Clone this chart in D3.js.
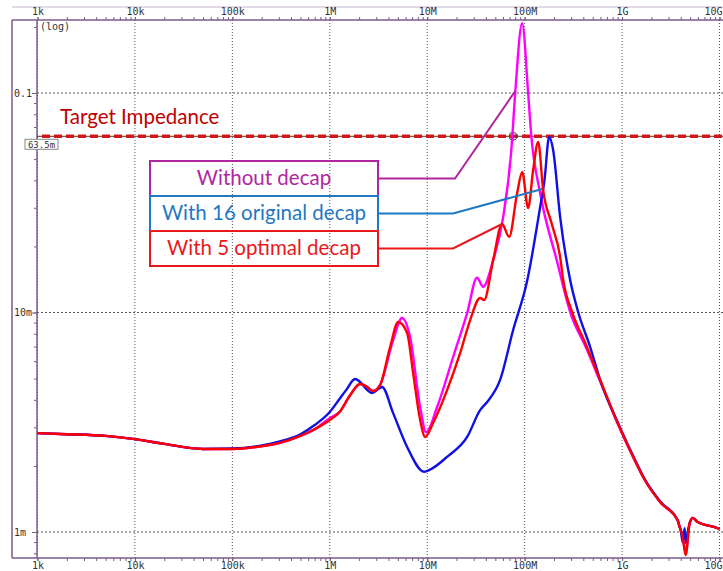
<!DOCTYPE html>
<html>
<head>
<meta charset="utf-8">
<script src="https://cdn.jsdelivr.net/npm/d3@7"></script>
<style>
  body { margin: 0; background: #fff; }
  svg { display: block; }
  .axis text { font-family: "DejaVu Sans Mono", monospace; font-size: 10px; fill: #333; }
  .axis line { stroke: #7b5b8c; }
</style>
</head>
<body>
<div id="chart"></div>
<script>
// frequency in MHz, impedance in mOhm
var freqWithout = [0.001, 0.002, 0.005, 0.01, 0.02, 0.05, 0.1, 0.2, 0.3, 0.5, 0.7, 1.0, 1.28, 1.62, 2.05, 2.42, 2.78, 3.28,
  4.47, 5.52, 6.67, 8.46, 9.74, 12.64, 18.45, 25.7, 32.5, 37.5, 47.5, 60.2, 73, 80, 94.3, 108.6, 116.6, 144.2, 215.7,
  293.2, 428, 596, 967, 1347, 1706, 2490, 3720, 3900, 4190, 4500, 4940, 5310, 5970, 9580, 10000];
var zWithout = [2.82, 2.79, 2.74, 2.65, 2.52, 2.39, 2.39, 2.46, 2.54, 2.74, 2.94, 3.30, 3.55, 4.21, 4.72, 4.58, 4.39, 4.67,
  7.49, 9.44, 7.73, 3.71, 2.85, 3.71, 6.27, 9.95, 14.4, 13.1, 17.3, 27.2, 55.0, 100, 208, 100, 65.0, 35.0, 17.0,
  10.05, 6.9, 4.85, 2.90, 2.12, 1.73, 1.36, 1.13, 1.054, 0.949, 0.80, 1.10, 1.16, 1.11, 1.04, 1.03];

var freqOriginal = [0.001, 0.002, 0.005, 0.01, 0.02, 0.05, 0.1, 0.2, 0.3, 0.5, 0.7, 1.0, 1.28, 1.47, 1.82, 2.72, 3.44,
  4.47, 6.22, 9.29, 11.5, 16.0, 25.7, 34.9, 41.2, 56.0, 76.2, 106, 144.2, 160, 178.4, 196.1, 231.5, 293.2, 354.2,
  470.5, 596, 967, 1347, 1706, 2490, 3720, 3900, 4000, 4190, 4390, 4500, 4830, 5310, 5970, 9580, 10000];
var zOriginal = [2.82, 2.79, 2.74, 2.65, 2.52, 2.39, 2.40, 2.48, 2.58, 2.79, 3.07, 3.52, 4.08, 4.43, 4.98, 4.30, 4.58,
  3.48, 2.44, 1.88, 1.96, 2.20, 2.71, 3.59, 3.91, 4.93, 8.32, 13.9, 30.2, 40.2, 63.0, 55.0, 27.2, 14.06, 10.05,
  6.96, 4.93, 2.95, 2.15, 1.74, 1.37, 1.13, 1.054, 1.02, 0.90, 1.04, 0.891, 1.054, 1.16, 1.11, 1.04, 1.03];

var freqOptimal = [0.001, 0.002, 0.005, 0.01, 0.02, 0.05, 0.1, 0.2, 0.3, 0.5, 0.7, 1.0, 1.28, 1.62, 2.05, 2.42, 2.78, 3.28,
  4.16, 5.03, 6.22, 7.17, 8.46, 9.52, 11.5, 16.0, 21.8, 27.6, 34.9, 38.4, 47.5, 58.7, 69.3, 83.8, 94.3, 108.6, 122.3,
  137.6, 154.9, 190, 231.5, 248.6, 307.4, 428, 596, 967, 1347, 1706, 2490, 3720, 3900, 4190, 4500, 4940, 5310, 5970,
  9580, 10000];
var zOptimal = [2.82, 2.79, 2.74, 2.65, 2.52, 2.39, 2.39, 2.46, 2.54, 2.74, 2.94, 3.24, 3.55, 4.21, 4.72, 4.58, 4.39, 4.67,
  6.96, 9.05, 8.06, 5.30, 3.24, 2.71, 3.14, 4.43, 6.54, 9.24, 11.64, 11.4, 17.3, 25.3, 22.1, 35.0, 43.7, 29.9, 44.6,
  59.8, 36.1, 25.3, 17.9, 14.1, 10.05, 7.1, 4.93, 2.92, 2.13, 1.73, 1.36, 1.13, 1.054, 0.949, 0.785, 1.10, 1.16, 1.11,
  1.04, 1.03];

var xTickValues = [0.001, 0.01, 0.1, 1, 10, 100, 1000, 10000];
var xTickLabels = ["1k", "10k", "100k", "1M", "10M", "100M", "1G", "10G"];
var yTickValues = [1, 10, 100];
var yTickLabels = ["1m", "10m", "0.1"];
var targetZ = 63.5;
var targetLabel = "63.5m";
var legendLabels = ["Without decap", "With 16 original decap", "With 5 optimal decap"];
// where each leader line touches its curve [MHz, mOhm]
var leaderEnds = [[80, 102], [151, 36.5], [58.7, 25.3]];

var W = 723, H = 571;
var plotL = 37, plotR = 723, plotT = 20, plotB = 558;

var svg = d3.select("#chart").append("svg")
    .attr("width", W)
    .attr("height", H);

var x = d3.scaleLog().domain([0.001, 10000]).range([37.5, 719.5]);
var y = d3.scaleLog().domain([1, 100]).range([532, 93]);

svg.append("clipPath").attr("id", "plot")
  .append("rect")
    .attr("x", plotL).attr("y", plotT)
    .attr("width", plotR - plotL).attr("height", plotB - plotT);

// grid
svg.append("g").selectAll("line")
  .data(xTickValues).enter().append("line")
    .attr("x1", function(d) { return x(d); })
    .attr("x2", function(d) { return x(d); })
    .attr("y1", plotT).attr("y2", plotB)
    .style("stroke", "#555").style("stroke-dasharray", "1,2");

svg.append("g").selectAll("line")
  .data(yTickValues).enter().append("line")
    .attr("x1", plotL).attr("x2", plotR)
    .attr("y1", function(d) { return y(d); })
    .attr("y2", function(d) { return y(d); })
    .style("stroke", "#555").style("stroke-dasharray", "2,2");

// frame
var frameColor = "#7b5b8c";
svg.append("line").attr("x1", 12).attr("x2", W).attr("y1", 7).attr("y2", 7)
  .style("stroke", "#c4b4cc").style("stroke-width", 1);
[[12, plotT, W, plotT], [12, plotB, W, plotB], [12, plotT, 12, plotB], [plotL, plotT, plotL, plotB]].forEach(function(l) {
  svg.append("line")
    .attr("x1", l[0]).attr("y1", l[1]).attr("x2", l[2]).attr("y2", l[3])
    .style("stroke", frameColor).style("stroke-width", 1.5);
});

// axes
var minorX = x.ticks();
var lastTick = xTickValues[xTickValues.length - 1];
// the last label sits at the page edge: keep it inside
function pinLast(g) {
  g.select(".domain").remove();
  g.selectAll(".tick text")
    .filter(function(d) { return d === lastTick; })
    .attr("text-anchor", "end").attr("x", W - 1 - x(lastTick));
}

svg.append("g").attr("class", "axis")
  .attr("transform", "translate(0," + plotT + ")")
  .call(d3.axisTop(x).tickValues(minorX).tickSize(3).tickFormat(""))
  .call(function(g) { g.select(".domain").remove(); });
svg.append("g").attr("class", "axis")
  .attr("transform", "translate(0," + plotT + ")")
  .call(d3.axisTop(x).tickValues(xTickValues).tickSize(3).tickPadding(2)
    .tickFormat(function(d, i) { return xTickLabels[i]; }))
  .call(pinLast);

svg.append("g").attr("class", "axis")
  .attr("transform", "translate(0," + plotB + ")")
  .call(d3.axisBottom(x).tickValues(minorX).tickSize(3).tickFormat(""))
  .call(function(g) { g.select(".domain").remove(); });
svg.append("g").attr("class", "axis")
  .attr("transform", "translate(0," + plotB + ")")
  .call(d3.axisBottom(x).tickValues(xTickValues).tickSize(3).tickPadding(1)
    .tickFormat(function(d, i) { return xTickLabels[i]; }))
  .call(pinLast);

var minorY = d3.scaleLog().domain([0.8, 200]).ticks();
svg.append("g").attr("class", "axis")
  .attr("transform", "translate(" + plotL + ",0)")
  .call(d3.axisLeft(y).tickValues(minorY).tickSize(3).tickFormat(""))
  .call(function(g) { g.select(".domain").remove(); });
svg.append("g").attr("class", "axis")
  .attr("transform", "translate(" + plotL + ",0)")
  .call(d3.axisLeft(y).tickValues(yTickValues).tickSize(5).tickFormat(""))
  .call(function(g) { g.select(".domain").remove(); });

svg.append("g").attr("class", "axis").selectAll("text")
  .data(yTickValues).enter().append("text")
    .attr("x", 14)
    .attr("y", function(d) { return y(d); })
    .attr("dy", "0.35em")
    .text(function(d, i) { return yTickLabels[i]; });

svg.append("text")
  .attr("x", 40).attr("y", 30)
  .style("font-family", "DejaVu Sans Mono, monospace").style("font-size", "10px").style("fill", "#333")
  .text("(log)");

// target impedance
var ty = y(targetZ);
svg.append("line")
  .attr("x1", plotL).attr("x2", plotR).attr("y1", ty).attr("y2", ty)
  .style("stroke", "#5a2a2a").style("stroke-width", 1);
svg.append("line")
  .attr("x1", plotL + 5).attr("x2", plotR).attr("y1", ty).attr("y2", ty)
  .style("stroke", "#d01818").style("stroke-width", 3.5).style("stroke-dasharray", "8,4");

svg.append("text")
  .attr("x", 60).attr("y", 124)
  .style("font-family", "Lato, sans-serif").style("font-size", "20.5px").style("fill", "#c00000")
  .text("Target Impedance");

svg.append("rect")
  .attr("x", 25).attr("y", ty + 3).attr("width", 33).attr("height", 10)
  .style("fill", "#fff").style("stroke", "#888");
svg.append("text")
  .attr("x", 41.5).attr("y", ty + 11.5)
  .attr("text-anchor", "middle")
  .style("font-family", "DejaVu Sans Mono, monospace").style("font-size", "9px").style("fill", "#333")
  .text(targetLabel);

// cursor marker where the first curve crosses the target
svg.append("circle")
  .attr("cx", x(76)).attr("cy", ty).attr("r", 4)
  .style("fill", "none").style("stroke", "#444").style("stroke-width", 1);
svg.append("line")
  .attr("x1", x(76)).attr("x2", x(76)).attr("y1", ty - 4).attr("y2", ty + 4)
  .style("stroke", "#444");

// curves
var series = [
  { f: freqWithout, z: zWithout, color: "#ff00ff" },
  { f: freqOriginal, z: zOriginal, color: "#1010e6" },
  { f: freqOptimal, z: zOptimal, color: "#ff0000" }
];

var line = d3.line()
  .x(function(d) { return x(d[0]); })
  .y(function(d) { return y(d[1]); })
  .curve(d3.curveMonotoneX);

svg.append("g").attr("clip-path", "url(#plot)")
  .selectAll("path")
  .data(series).enter().append("path")
    .attr("d", function(s) { return line(s.f.map(function(f, i) { return [f, s.z[i]]; })); })
    .style("fill", "none")
    .style("stroke", function(s) { return s.color; })
    .style("stroke-width", 2.4)
    .style("stroke-linejoin", "round");

// legend boxes with leader lines
var legendColors = ["#b0269f", "#1f78c2", "#e8191c"];
var boxX = 150, boxW = 228, boxTop = 161, boxH = 35;
var elbowX = [455, 453, 453];

legendLabels.forEach(function(label, i) {
  var by = boxTop + i * boxH;
  var my = by + boxH / 2;
  svg.append("polyline")
    .attr("points", [[boxX + boxW, my], [elbowX[i], my], [x(leaderEnds[i][0]), y(leaderEnds[i][1])]].join(" "))
    .style("fill", "none").style("stroke", legendColors[i]).style("stroke-width", 2);
  svg.append("rect")
    .attr("x", boxX).attr("y", by).attr("width", boxW).attr("height", boxH)
    .style("fill", "none").style("stroke", legendColors[i]).style("stroke-width", 2);
  svg.append("text")
    .attr("x", boxX + boxW / 2).attr("y", by + 24)
    .attr("text-anchor", "middle")
    .style("font-family", "Lato, sans-serif").style("font-size", "20.5px").style("fill", legendColors[i])
    .text(label);
});
</script>
</body>
</html>
